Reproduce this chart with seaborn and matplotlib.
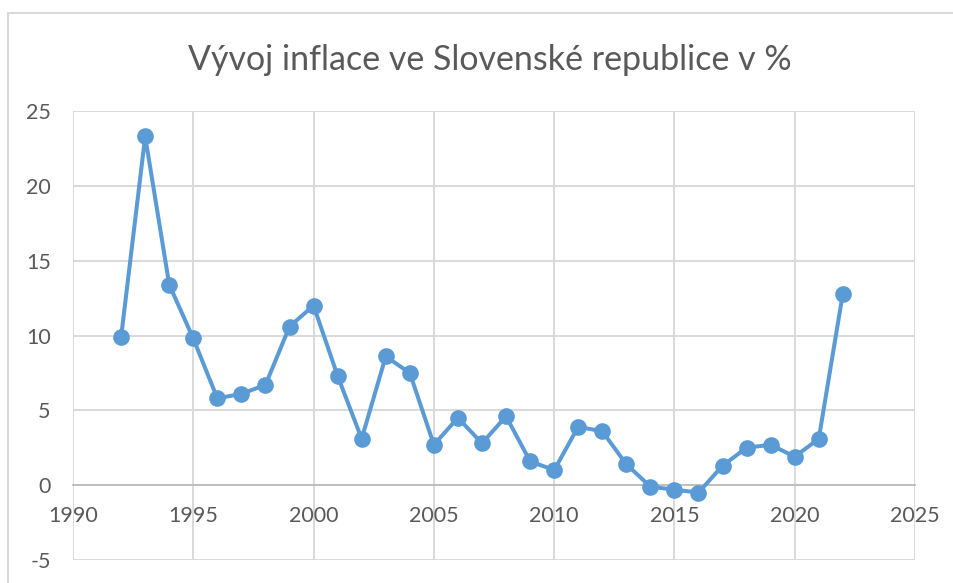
import pandas as pd
import seaborn as sns
import matplotlib.pyplot as plt
from matplotlib.patches import Rectangle

# inflace v SR
roky = [1992, 1993, 1994, 1995, 1996, 1997, 1998, 1999, 2000, 2001,
        2002, 2003, 2004, 2005, 2006, 2007, 2008, 2009, 2010, 2011,
        2012, 2013, 2014, 2015, 2016, 2017, 2018, 2019, 2020, 2021, 2022]
inflace = [9.9, 23.3, 13.4, 9.8, 5.8, 6.1, 6.7, 10.6, 12.0, 7.3,
           3.1, 8.6, 7.5, 2.7, 4.5, 2.8, 4.6, 1.6, 1.0, 3.9,
           3.6, 1.4, -0.1, -0.3, -0.5, 1.3, 2.5, 2.7, 1.9, 3.1, 12.8]
x_ticks = [1990, 1995, 2000, 2005, 2010, 2015, 2020, 2025]
y_ticks = [-5, 0, 5, 10, 15, 20, 25]

df = pd.DataFrame({'Rok': roky, 'Inflace': inflace})

sns.set_style('white')
plt.rcParams['font.family'] = ['Lato', 'DejaVu Sans']
plt.rcParams['axes.unicode_minus'] = False

fig = plt.figure(figsize=(9.54, 5.83), dpi=100)
ax = fig.add_axes([73 / 954, 1 - 560 / 583, (915 - 73) / 954, (560 - 111) / 583])

# outer chart border (Excel style)
fig.patches.append(Rectangle((8 / 954, -0.1), 1.2, 1 - 13 / 583 + 0.1,
                             transform=fig.transFigure, fill=False,
                             edgecolor='#d9d9d9', linewidth=1.5))

sns.lineplot(data=df, x='Rok', y='Inflace', ax=ax, color='#5b9bd5',
             linewidth=2.9, marker='o', markersize=12,
             markeredgewidth=0, zorder=5)

ax.set_xlim(1990, 2025)
ax.set_ylim(-5, 25)
ax.set_xticks(x_ticks)
ax.set_yticks(y_ticks)
ax.grid(True, color='#d9d9d9', linewidth=1.4)
ax.set_axisbelow(True)
for s in ['top', 'right', 'left']:
    ax.spines[s].set_visible(False)
ax.spines['bottom'].set_position(('data', 0))
ax.spines['bottom'].set_color('#bfbfbf')
ax.spines['bottom'].set_linewidth(1.4)
ax.spines['bottom'].set_zorder(2)
ax.tick_params(axis='both', length=0, labelsize=15.5, labelcolor='#595959')
ax.tick_params(axis='x', pad=15)
ax.tick_params(axis='y', pad=16)
ax.set_xlabel('')
ax.set_ylabel('')

fig.text(490 / 954, 1 - 60 / 583, 'Vývoj inflace ve Slovenské republice v %',
         ha='center', va='center', fontsize=24.5, color='#595959')

fig.savefig('out.png', dpi=100)
